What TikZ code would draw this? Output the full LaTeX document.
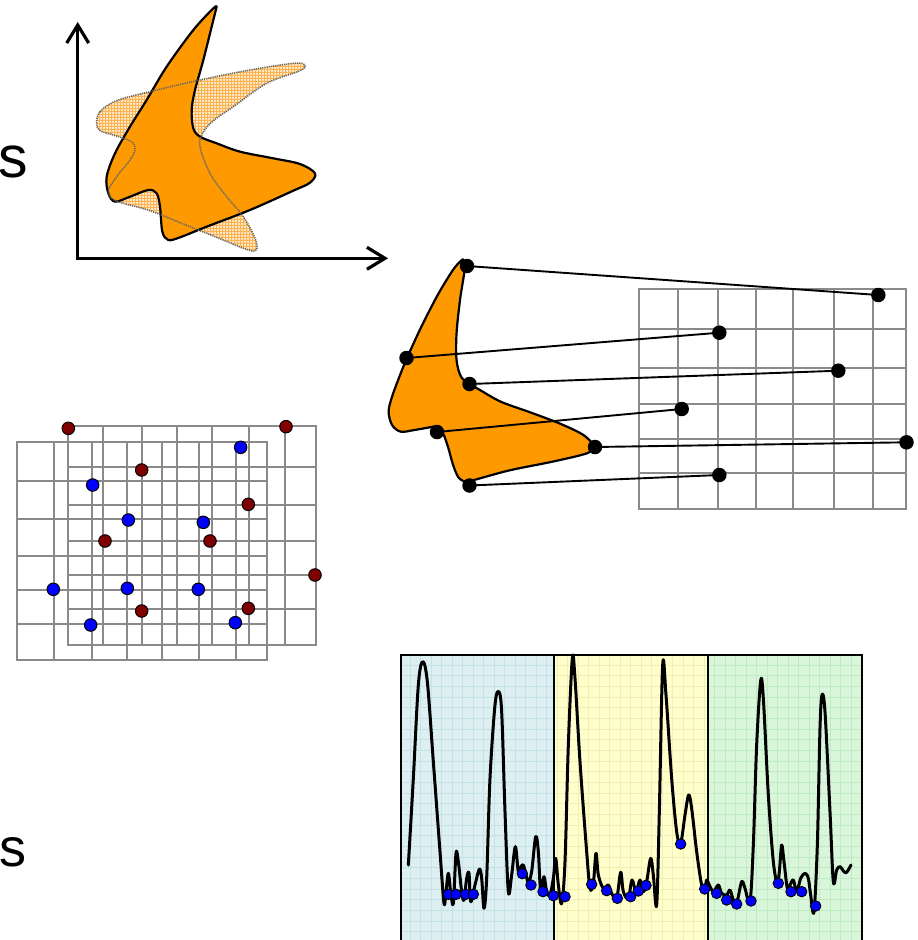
\documentclass[tikz,border=0pt]{standalone}
\usepackage{fontspec}
\setmainfont{Liberation Sans}
\usetikzlibrary{arrows.meta,patterns}
\pgfdeclarepatternformonly{finegrid}{\pgfqpoint{-0.1pt}{-0.1pt}}{\pgfqpoint{3.1pt}{3.1pt}}{\pgfqpoint{3pt}{3pt}}{%
  \pgfpathrectangle{\pgfpointorigin}{\pgfqpoint{3pt}{1.2pt}}%
  \pgfpathrectangle{\pgfpointorigin}{\pgfqpoint{1.2pt}{3pt}}%
  \pgfusepath{fill}}
\definecolor{orng}{HTML}{FF9900}
\definecolor{hatchbg}{HTML}{FFEFD8}
\definecolor{hatchfg}{HTML}{FDB250}
\definecolor{gridgray}{HTML}{8A8A8A}
\definecolor{dred}{HTML}{800000}
\definecolor{pblue}{HTML}{DDEFF1}
\definecolor{pbline}{HTML}{C4E3E7}
\definecolor{pyel}{HTML}{FFFFCC}
\definecolor{pyline}{HTML}{F3EFB4}
\definecolor{pgrn}{HTML}{D9F5DA}
\definecolor{pgline}{HTML}{BFEBC2}
\tikzset{
  bdot/.style={circle, fill=black, inner sep=0pt, minimum size=14.5pt},
  rdot/.style={circle, fill=dred, draw=black, line width=1pt, inner sep=0pt, minimum size=12.5pt},
  udot/.style={circle, fill=blue, draw=black, line width=1pt, inner sep=0pt, minimum size=12.5pt},
  cdot/.style={circle, fill=blue, draw=black, line width=0.9pt, inner sep=0pt, minimum size=10.5pt},
  conn/.style={line width=1.9pt, black},
  gridln/.style={gridgray, line width=2pt, line cap=rect},
  axisln/.style={line width=3.2pt, line join=miter, {Straight Barb[length=18pt,width=22pt]}-{Straight Barb[length=18pt,width=22pt]}},
  bigs/.style={anchor=base west, inner sep=0pt, outer sep=0pt},
  solidshape/.style={fill=orng, draw=black, line width=2.2pt, line join=round},
  hatchline/.style={draw=black!60, line width=1.6pt, dash pattern=on 1.2pt off 1pt},
  curve/.style={line width=3pt, line join=round, line cap=round},
}
\begin{document}
\begin{tikzpicture}[x=1pt, y=-1pt]
\useasboundingbox (0,0) rectangle (918,940);
\fill[white] (0,0) rectangle (918,940);

% ---------------- texts "s"
\node[bigs, font=\fontsize{59}{59}\selectfont] (stop) at (-1.6,177.6) {s};
\node[bigs, font=\fontsize{54}{54}\selectfont] (sbot) at (-1,866) {s};

% ---------------- top-left: axes and shapes (zoom coordinates, 1/3 scale)
\begin{scope}[x=0.33333pt, y=-0.33333pt]
  \fill[hatchbg] plot[smooth cycle, tension=0.6] coordinates {(290,370) (300,335) (350,302) (450,275) (600,240) (750,210) (880,190) (915,195) (900,212) (800,250) (700,320) (640,362) (608,400) (600,440) (630,520) (680,590) (730,650) (765,715) (770,748) (745,750) (650,712) (550,672) (450,632) (350,603) (325,575) (350,530) (390,480) (405,450) (395,425) (340,405) (300,392)};
  \fill[pattern=finegrid, pattern color=hatchfg] plot[smooth cycle, tension=0.6] coordinates {(290,370) (300,335) (350,302) (450,275) (600,240) (750,210) (880,190) (915,195) (900,212) (800,250) (700,320) (640,362) (608,400) (600,440) (630,520) (680,590) (730,650) (765,715) (770,748) (745,750) (650,712) (550,672) (450,632) (350,603) (325,575) (350,530) (390,480) (405,450) (395,425) (340,405) (300,392)};
  \path[solidshape] plot[smooth, tension=0.55] coordinates {(650,20) (640,60) (610,180) (585,270) (575,330) (580,385) (600,410) (650,430) (720,455) (820,475) (900,492) (945,520) (930,548) (880,572) (750,630) (620,680) (540,712) (505,720) (487,695) (480,620) (470,580) (445,570) (390,590) (345,605) (325,580) (320,530) (345,460) (390,380) (440,300) (500,200) (580,90) (640,25) (650,20)} -- cycle;
  \path[hatchline] plot[smooth cycle, tension=0.6] coordinates {(290,370) (300,335) (350,302) (450,275) (600,240) (750,210) (880,190) (915,195) (900,212) (800,250) (700,320) (640,362) (608,400) (600,440) (630,520) (680,590) (730,650) (765,715) (770,748) (745,750) (650,712) (550,672) (450,632) (350,603) (325,575) (350,530) (390,480) (405,450) (395,425) (340,405) (300,392)};
\end{scope}
\coordinate (O) at (77.7,258.3);
\coordinate (ytip) at (77.7,22);
\coordinate (xtip) at (388,258.3);
\draw[axisln] (ytip) -- (O) -- (xtip);

% ---------------- middle: shape with points mapped to grid
\foreach \x in {639.3,678.3,718.3,756,793.3,834,873.3,906}
  \draw[gridln] (\x,289.3) -- (\x,509);
\foreach \y in {289.3,329,368.3,404,439,472.7,509}
  \draw[gridln] (639.3,\y) -- (906,\y);
\begin{scope}[xshift=380pt, yshift=-250pt, x=0.34483pt, y=-0.33333pt]
  \path[solidshape] plot[smooth, tension=0.55] coordinates {(240,28) (245,60) (232,150) (222,250) (222,330) (235,380) (260,402) (290,420) (350,455) (430,485) (520,520) (590,555) (624,590)}
    -- plot[smooth, tension=0.55] coordinates {(624,590) (600,610) (500,635) (380,660) (290,685) (250,697)}
    -- plot[smooth, tension=0.55] coordinates {(250,697) (228,683) (212,645) (197,590) (182,548) (165,528)}
    -- plot[smooth, tension=0.55] coordinates {(165,528) (100,540) (60,545) (35,525) (25,485) (35,440) (60,370) (80,320) (120,230) (170,130) (215,55) (240,28)} -- cycle;
\end{scope}
\node[bdot] (s1) at (467,266) {};
\node[bdot] (s2) at (406.5,358) {};
\node[bdot] (s3) at (469.5,384) {};
\node[bdot] (s4) at (437,432) {};
\node[bdot] (s5) at (595,447) {};
\node[bdot] (s6) at (469.5,485.5) {};
\node[bdot] (g1) at (878.3,295) {};
\node[bdot] (g2) at (719.3,332.7) {};
\node[bdot] (g3) at (838.3,370.7) {};
\node[bdot] (g4) at (681.7,409) {};
\node[bdot] (g5) at (906.5,442.3) {};
\node[bdot] (g6) at (719.3,475) {};
\foreach \i in {1,...,6}
  \draw[conn] (s\i.center) -- (g\i.center);

% ---------------- left: two overlapping grids with points
\begin{scope}[yshift=-410pt, x=0.33333pt, y=-0.33333pt]
  \foreach \x in {52,162,275,380,487,598,708,800}
    \draw[gridln] (\x,95) -- (\x,750);
  \foreach \y in {95,213,328,437,540,643,750}
    \draw[gridln] (52,\y) -- (800,\y);
  \foreach \x in {205,310,425,530,635,748,855,948}
    \draw[gridln] (\x,48) -- (\x,705);
  \foreach \y in {48,170,285,393,495,598,705}
    \draw[gridln] (205,\y) -- (948,\y);
  \node[rdot] (r1) at (205,55) {};
  \node[rdot] (r2) at (858,50) {};
  \node[rdot] (r3) at (425,180) {};
  \node[rdot] (r4) at (745,283) {};
  \node[rdot] (r5) at (315,393) {};
  \node[rdot] (r6) at (630,393) {};
  \node[rdot] (r7) at (945,495) {};
  \node[rdot] (r8) at (425,603) {};
  \node[rdot] (r9) at (745,595) {};
  \node[udot] (u1) at (722,112) {};
  \node[udot] (u2) at (278,225) {};
  \node[udot] (u3) at (385,330) {};
  \node[udot] (u4) at (610,337) {};
  \node[udot] (u5) at (160,538) {};
  \node[udot] (u6) at (382,535) {};
  \node[udot] (u7) at (595,538) {};
  \node[udot] (u8) at (272,645) {};
  \node[udot] (u9) at (706,638) {};
\end{scope}

% ---------------- bottom: signal chart
\begin{scope}[xshift=390pt, yshift=-645pt, x=0.33333pt, y=-0.33333pt]
  \foreach \xa/\xb/\fc/\lc in {33/493/pblue/pbline, 493/955/pyel/pyline, 955/1416/pgrn/pgline} {
    \begin{scope}
      \clip (\xa,30) rectangle (\xb,900);
      \fill[\fc] (\xa,30) rectangle (\xb,900);
      \foreach \i in {0,...,44}
        \draw[\lc, line width=0.7pt] ({60+31.5*\i},30) -- ({60+31.5*\i},900);
      \foreach \j in {0,...,27}
        \draw[\lc, line width=0.7pt] (33,{60+32*\j}) -- (1416,{60+32*\j});
    \end{scope}
  }
  \draw[black, line width=1.6pt] (33,900) -- (33,30) -- (1416,30) -- (1416,900);
  \draw[black, line width=2pt] (493,30) -- (493,900);
  \draw[black, line width=2pt] (955,30) -- (955,900);
  \draw[curve] plot[smooth, tension=0.55] coordinates {(55,660) (70,400) (85,120) (98,50) (112,110) (130,350) (150,620) (162,775) (168,740) (175,685) (182,740) (190,775) (198,625) (205,650) (215,740) (222,765) (230,700) (237,685) (242,770) (255,720) (268,672) (275,700) (282,790) (290,700) (300,400) (315,180) (326,140) (335,200) (345,500) (355,740) (365,690) (376,605) (385,680) (393,665) (400,660) (408,690) (415,710) (425,680) (437,575) (445,620) (452,740) (462,695) (470,740) (480,750) (490,700) (497,640) (505,720) (515,775) (525,650) (535,300) (547,40) (555,100) (570,350) (590,620) (600,730) (610,715) (618,625) (625,690) (640,730) (655,720) (665,745) (680,760) (692,682) (700,740) (715,760) (726,705) (738,740) (750,705) (760,740) (770,710) (782,640) (790,690) (800,780) (808,500) (818,60) (828,150) (845,400) (860,560) (872,595) (885,510) (896,450) (905,490) (920,620) (935,720) (945,730) (950,705) (958,720) (970,740) (985,720) (995,745) (1010,750) (1020,735) (1030,765) (1040,775) (1055,710) (1065,730) (1080,770) (1090,600) (1100,300) (1112,108) (1120,160) (1135,450) (1150,650) (1162,715) (1168,680) (1175,600) (1182,650) (1192,730) (1200,720) (1210,705) (1220,740) (1232,700) (1245,685) (1255,700) (1262,750) (1272,800) (1282,600) (1290,250) (1296,150) (1305,200) (1320,500) (1330,710) (1340,675) (1350,665) (1362,680) (1370,682) (1383,660)};
  \foreach \n/\p in {c1/{(175,748)}, c2/{(198,748)}, c3/{(227,748)}, c4/{(250,748)}, c5/{(397,686)}, c6/{(423,720)}, c7/{(459,740)}, c8/{(490,752)}, c9/{(525,755)}, c10/{(605,718)}, c11/{(650,737)}, c12/{(682,760)}, c13/{(722,755)}, c14/{(745,738)}, c15/{(768,721)}, c16/{(872,597)}, c17/{(944,732)}, c18/{(980,745)}, c19/{(1010,765)}, c20/{(1040,777)}, c21/{(1083,768)}, c22/{(1165,715)}, c23/{(1203,740)}, c24/{(1235,740)}, c25/{(1277,783)}}
    \node[cdot] (\n) at \p {};
\end{scope}
\end{tikzpicture}
\end{document}
